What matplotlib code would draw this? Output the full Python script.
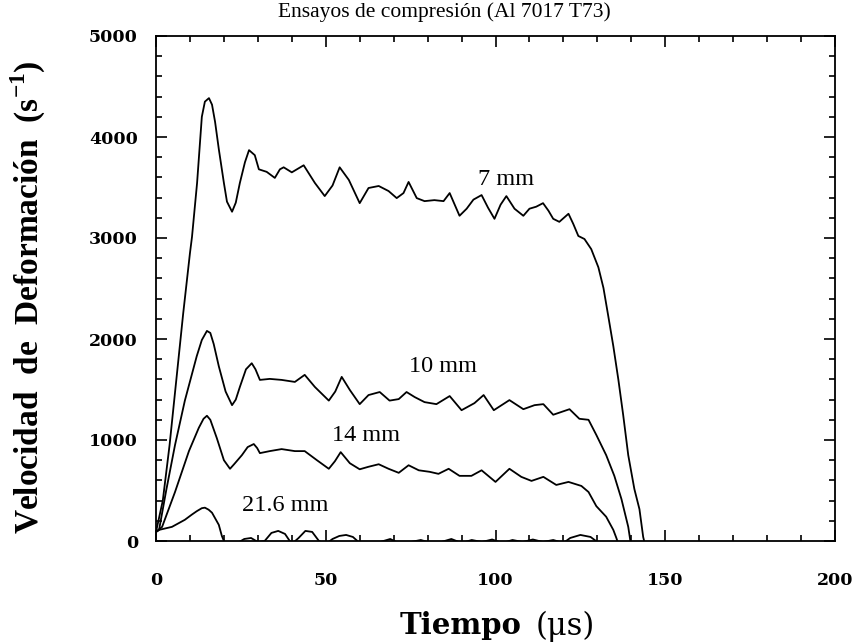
import numpy as np
import matplotlib
matplotlib.use("Agg")
import matplotlib.pyplot as plt
from matplotlib.ticker import MultipleLocator

# curvas (tiempo en us, velocidad en 1/s)
t_7 = [0, 2, 4, 6, 8, 10, 10.6, 12.1, 13.5, 14.4, 15.6, 16.5, 17.4, 18.5, 20, 20.9, 22.4,
       23.5, 24.7, 26.2, 27.4, 29.1, 30.3, 32.6, 35, 36.5, 37.6, 40,
       43.5, 46.8, 49.7, 52, 54.1, 56.8, 60, 62.6, 65.6, 68.5, 70.9, 72.9, 74.4, 76.8, 79.1,
       82, 84.7, 86.5, 89.4, 91.5, 93.5, 95.9, 97.8, 99.7, 101.5, 103.2, 105.6, 108.2, 110,
       112, 114, 115.6, 117, 118.8, 121.5, 122.9, 124.4, 126.2, 128.2, 130.3, 131.8, 133.2,
       134.7, 136.2, 137.6, 139.1, 140.9, 142.4, 143.5, 144.5]
v_7 = [90, 400, 950, 1600, 2250, 2850, 3010, 3545, 4200, 4350, 4385, 4320, 4150, 3880,
       3545, 3360, 3260, 3350, 3545, 3750, 3870, 3820, 3680, 3655, 3595, 3680, 3700, 3650,
       3720, 3545, 3415, 3520, 3700, 3575, 3345, 3495, 3515, 3465, 3395, 3445, 3555, 3395,
       3365, 3375, 3365, 3445, 3220, 3290, 3380, 3425, 3300, 3190, 3330, 3415, 3290, 3220,
       3290, 3310, 3345, 3270, 3190, 3160, 3240, 3140, 3020, 2990, 2890, 2710, 2505, 2230,
       1930, 1595, 1250, 850, 515, 315, 40, -100]

t_10 = [0, 0.9, 3, 5.6, 8.5, 12, 13.5, 15, 16, 17, 18.5, 20.5, 22.4, 23.5, 24.7, 26.5, 28.2,
        29.3, 30.6, 33.5, 37, 40.9, 43.8, 46.8, 50.9, 52.8, 54.7, 57.1, 60, 62.6, 65.9, 68.8,
        71.5, 73.8, 76.2, 79.1, 82.6, 86.5, 90, 93.8, 96.5, 99.5, 104.1, 108.2, 111.5,
        114.1, 117, 121.8, 124.7, 127.4, 129.7, 132.6, 135, 137.1, 139.1, 140]
v_10 = [90, 110, 500, 950, 1390, 1830, 1990, 2080, 2060, 1950, 1730, 1480, 1345, 1400, 1525,
        1700, 1760, 1700, 1595, 1605, 1595, 1575, 1645, 1525, 1390, 1480, 1625, 1495, 1355,
        1445, 1475, 1390, 1405, 1475, 1425, 1375, 1355, 1435, 1295, 1365, 1445, 1295, 1395,
        1305, 1345, 1355, 1250, 1305, 1210, 1200, 1050, 850, 645, 415, 140, -60]

t_14 = [0, 1.8, 5.6, 9.7, 12.6, 14, 15, 16, 17.9, 20, 21.8, 23, 25.3, 27, 28.8, 29.8, 30.6,
        33.5, 37, 40.9, 43.8, 47.4, 50.9, 52.7, 54.4, 57.1, 60, 62.6, 65.6, 68.5, 71.5, 74.4,
        77.4, 80.6, 83.2, 86.2, 89.4, 92.9, 95.9, 100, 104.1, 107.6, 110.6, 114.1, 117.9,
        121.5, 125.3, 127.4, 129.7, 132.6, 134.7, 135.6, 136.5]
v_14 = [90, 140, 485, 890, 1120, 1210, 1240, 1200, 1020, 800, 715, 760, 850, 930, 960, 920,
        870, 890, 910, 890, 890, 800, 715, 790, 880, 770, 710, 735, 760, 715, 675, 750, 700,
        685, 665, 715, 645, 645, 700, 585, 715, 635, 595, 635, 555, 585, 545, 485, 345, 240,
        110, 30, -60]

t_216 = [0, 0.9, 4.7, 8.5, 10.5, 12, 13.5, 14.4, 15.5, 16.5, 17.5, 18.5, 19.4, 20, 22, 24,
         26, 28, 30, 32, 34, 36, 38, 40, 42, 44, 46, 48, 50, 52, 54, 56, 58, 60, 63, 66,
         69, 72, 75, 78, 81, 84, 87, 90, 93, 96, 99, 102, 105, 108, 111, 114, 117, 120,
         122, 125, 128, 130, 132, 135]
v_216 = [90, 110, 140, 210, 260, 295, 325, 330, 310, 280, 220, 160, 50, 0, -80, -20, 20,
         30, -10, 0, 80, 100, 70, -30, 30, 100, 90, 0, -30, 20, 50, 60, 40, -20, -40, -10,
         20, -30, -10, 10, -20, -10, 20, -20, 10, -10, 15, -20, 10, -10, 15, -10, 10, -20,
         30, 60, 40, -10, -80, -150]

curvas = [(t_7, v_7), (t_10, v_10), (t_14, v_14), (t_216, v_216)]
etiquetas = ["7 mm", "10 mm", "14 mm", "21.6 mm"]
pos_etiquetas = [(103, 3580), (84.5, 1725), (62, 1040), (38, 355)]

plt.rcParams["mathtext.fontset"] = "custom"
plt.rcParams["mathtext.rm"] = "Liberation Serif:bold"
plt.rcParams["mathtext.bf"] = "Liberation Serif:bold"

fig = plt.figure(figsize=(8.58, 6.44), dpi=100)
ax = fig.add_axes([156 / 858, 103 / 644, (835 - 156) / 858, (541 - 36) / 644])

for t, v in curvas:
    ax.plot(t, v, color="black", lw=1.3, solid_joinstyle="round")

for txt, (x, y) in zip(etiquetas, pos_etiquetas):
    ax.text(x, y, txt, family="Liberation Serif", fontsize=17.5, ha="center", va="center")

ax.set_xlim(0, 200)
ax.set_ylim(0, 5000)
ax.xaxis.set_major_locator(MultipleLocator(50))
ax.xaxis.set_minor_locator(MultipleLocator(10))
ax.yaxis.set_major_locator(MultipleLocator(1000))
ax.yaxis.set_minor_locator(MultipleLocator(200))
ax.tick_params(which="both", direction="in", top=True, right=True, width=1.2)
ax.tick_params(which="major", length=8)
ax.tick_params(which="minor", length=4)
ax.tick_params(axis="x", which="major", pad=22)
ax.tick_params(axis="y", which="major", pad=13)
for lab in ax.get_xticklabels() + ax.get_yticklabels():
    lab.set_family("DejaVu Serif")
    lab.set_fontweight("bold")
    lab.set_fontsize(12.5)
for s in ax.spines.values():
    s.set_linewidth(1.3)

fig.text(444 / 858, 1 - 12 / 644, "Ensayos de compresión (Al 7017 T73)",
         family="Liberation Serif", fontsize=15.5, ha="center", va="center")
fig.text(28 / 858, 1 - 297 / 644, "Velocidad  de  Deformación  (s$^{-1}$)",
         family="Liberation Serif", fontweight="bold", fontsize=24,
         rotation=90, ha="center", va="center")
fig.text(521 / 858, 1 - 626 / 644, "Tiempo", family="DejaVu Serif",
         fontweight="bold", fontsize=21, ha="right", va="center")
fig.text(536 / 858, 1 - 626 / 644, "(μs)", family="DejaVu Serif",
         fontsize=22, ha="left", va="center")

fig.savefig("out.png", dpi=100)
